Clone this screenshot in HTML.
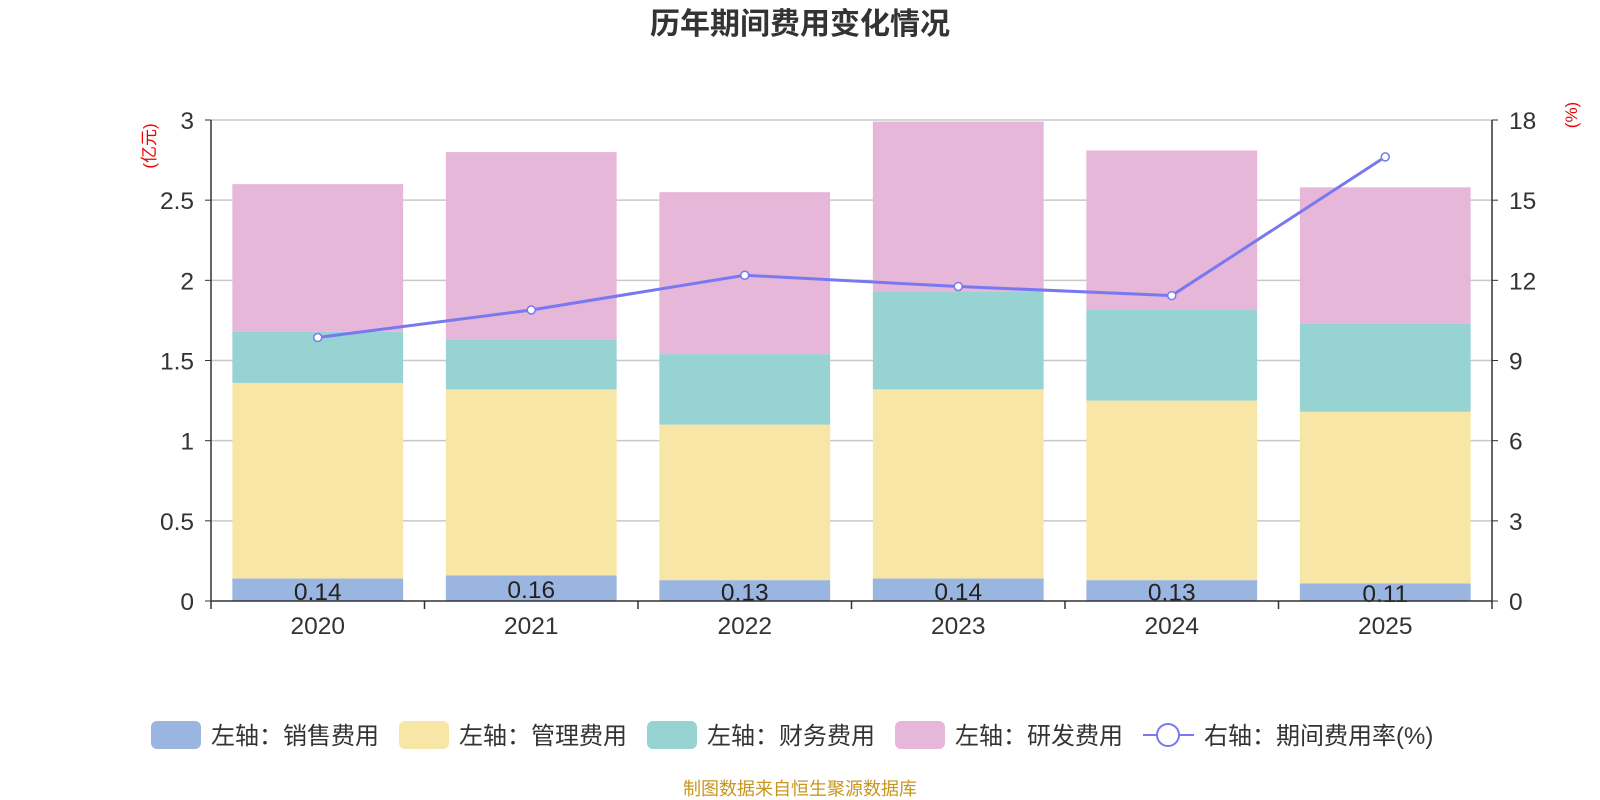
<!DOCTYPE html>
<html><head><meta charset="utf-8"><style>
html,body{margin:0;padding:0;background:#fff;width:1600px;height:800px;overflow:hidden}
text{font-family:"Liberation Sans","Noto Sans CJK SC",sans-serif}
</style></head><body>
<svg id="chart" width="1600" height="800" xmlns="http://www.w3.org/2000/svg">
<text x="800" y="34" text-anchor="middle" font-size="30" font-weight="bold" fill="#333">历年期间费用变化情况</text>
<text transform="translate(155,146) rotate(-90)" text-anchor="middle" font-size="17" fill="#e00">(亿元)</text>
<text transform="translate(1577,115) rotate(-90)" text-anchor="middle" font-size="17" fill="#e00">(%)</text>
<g id="grid"></g><g id="bars"></g><g id="axes"></g><g id="line"></g>
<g font-size="24" fill="#333">
<g><rect x="151" y="721" width="50" height="28" rx="6" fill="#9bb5e1"/><text x="211" y="744">左轴：销售费用</text></g>
<g><rect x="399" y="721" width="50" height="28" rx="6" fill="#f7e6a6"/><text x="459" y="744">左轴：管理费用</text></g>
<g><rect x="647" y="721" width="50" height="28" rx="6" fill="#98d3d4"/><text x="707" y="744">左轴：财务费用</text></g>
<g><rect x="895" y="721" width="50" height="28" rx="6" fill="#e6b7d8"/><text x="955" y="744">左轴：研发费用</text></g>
<g><line x1="1143" y1="735" x2="1194" y2="735" stroke="#7878f0" stroke-width="2"/><circle cx="1168" cy="735" r="11" fill="#fff" stroke="#7878f0" stroke-width="2"/><text x="1204" y="744">右轴：期间费用率(%)</text></g>
</g>
<text x="800" y="795" text-anchor="middle" font-size="18" fill="#c8961e">制图数据来自恒生聚源数据库</text>
</svg>
<script>
const categories=["2020","2021","2022","2023","2024","2025"];
const sales=[0.14,0.16,0.13,0.14,0.13,0.11];
const admin=[1.22,1.16,0.97,1.18,1.12,1.07];
const finance=[0.32,0.31,0.44,0.61,0.57,0.55];
const rd=[0.92,1.17,1.01,1.06,0.99,0.85];
const rate=[9.86,10.89,12.19,11.77,11.43,16.62];
const leftTicks=["0","0.5","1","1.5","2","2.5","3"];
const rightTicks=["0","3","6","9","12","15","18"];
const NS="http://www.w3.org/2000/svg";
const X0=211,X1=1492,Y0=601,Y1=120;
const band=(X1-X0)/categories.length;
const yL=v=>Y0-v/3*(Y0-Y1);
const yR=v=>Y0-v/18*(Y0-Y1);
const xc=i=>X0+band*(i+0.5);
function mk(tag,attrs,parent){const e=document.createElementNS(NS,tag);for(const k in attrs)e.setAttribute(k,attrs[k]);document.getElementById(parent).appendChild(e);return e;}
leftTicks.forEach((t,i)=>{const v=parseFloat(t);const y=yL(v);
 if(i>0){const g=mk("line",{x1:X0,x2:X1,y1:y,y2:y,stroke:"#c8c8c8","stroke-width":1.5},"grid");}
 const l=mk("text",{x:X0-17,y:y+9,"text-anchor":"end","font-size":24.5,fill:"#333"},"axes");l.textContent=t;
 
 mk("line",{x1:X0-6,x2:X0,y1:y,y2:y,stroke:"#333"},"axes");});
rightTicks.forEach(t=>{const y=yR(parseFloat(t));
 const l=mk("text",{x:X1+17,y:y+9,"font-size":24.5,fill:"#333"},"axes");l.textContent=t;
 
 mk("line",{x1:X1,x2:X1+6,y1:y,y2:y,stroke:"#333"},"axes");});
mk("line",{x1:X0,x2:X0,y1:Y1,y2:Y0,stroke:"#333","stroke-width":1.5},"axes");
mk("line",{x1:X1,x2:X1,y1:Y1,y2:Y0,stroke:"#333","stroke-width":1.5},"axes");
mk("line",{x1:X0,x2:X1,y1:Y0,y2:Y0,stroke:"#333","stroke-width":1.5},"axes");
for(let i=0;i<=categories.length;i++){const x=X0+band*i;mk("line",{x1:x,x2:x,y1:Y0,y2:Y0+8,stroke:"#333","stroke-width":1.5},"axes");}
const series=[[sales,"#9bb5e1","sales"],[admin,"#f7e6a6","admin"],[finance,"#98d3d4","finance"],[rd,"#e6b7d8","rd"]];
const bw=band*0.8;
categories.forEach((c,i)=>{
 const l=mk("text",{x:xc(i),y:Y0+33,"text-anchor":"middle","font-size":24.5,fill:"#333"},"axes");l.textContent=c;
 
 let base=0;
 series.forEach(([arr,col,nm])=>{const top=base+arr[i];
  const r=mk("rect",{x:xc(i)-bw/2,y:yL(top),width:bw,height:yL(base)-yL(top),fill:col},"bars");
  base=top;});
 const t=mk("text",{x:xc(i),y:yL(sales[i]/2)+10,"text-anchor":"middle","font-size":24.5,fill:"#222"},"bars");t.textContent=sales[i].toFixed(2);
 
});
const p=mk("polyline",{points:rate.map((v,i)=>xc(i)+","+yR(v)).join(" "),fill:"none",stroke:"#7878f0","stroke-width":3},"line");

rate.forEach((v,i)=>{const c=mk("circle",{cx:xc(i),cy:yR(v),r:4,fill:"#fff",stroke:"#7878f0","stroke-width":1.5},"line");
 });
</script>
</body></html>
